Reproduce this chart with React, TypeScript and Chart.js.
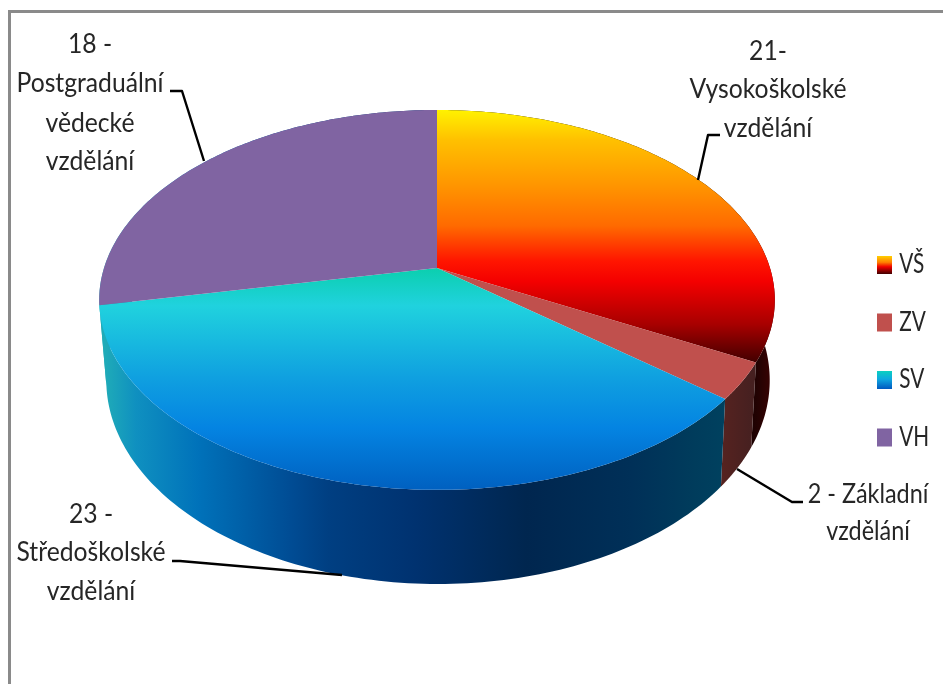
import React, { useEffect, useRef } from "react";
import { Chart, PieController, ArcElement, Legend } from "chart.js";

Chart.register(PieController, ArcElement, Legend);

const categories = ["VŠ", "ZV", "SV", "VH"];
const values = [21, 2, 23, 18];
const calloutLines = [
  ["21-", "Vysokoškolské", "vzdělání"],
  ["2 - Základní", "vzdělání"],
  ["23 -", "Středoškolské", "vzdělání"],
  ["18 -", "Postgraduální", "vědecké", "vzdělání"],
];

const FONT = "Lato";
const TEXT_SIZE = 26;
const LEGEND_SQUEEZE = 0.8;
const INK = "#262626";

// perspective disc: top face and bottom rim
const APEX_X = 437;
const APEX_Y = 268;
const TILT = 0.168;
const TOP = { r: 333, s: 184.6, dy: 0, dx: 0 };
const BOTTOM = { r: 327, s: 198, dy: 78, dx: 1 };

function project(t: number, f: { r: number; s: number; dy: number; dx: number }) {
  const X = Math.cos(t);
  const Y = Math.sin(t);
  const w = 1 - TILT * Y;
  return [APEX_X + f.dx + (f.r * X) / w, APEX_Y + f.dy + (f.s * Y) / w];
}

function linear(ctx: any, x0: number, y0: number, x1: number, y1: number, stops: [number, string][]) {
  const g = ctx.createLinearGradient(x0, y0, x1, y1);
  stops.forEach(([p, c]) => g.addColorStop(p, c));
  return g;
}

const VS_STOPS: [number, string][] = [
  [0, "#fff200"], [0.12, "#ffc000"], [0.3, "#ff9500"], [0.46, "#ff6a00"],
  [0.6, "#ff1500"], [0.68, "#f40000"], [0.85, "#a80000"], [1, "#430000"],
];
const SV_STOPS: [number, string][] = [
  [0, "#0bcfae"], [0.17, "#20d2de"], [0.5, "#0f9fe0"], [0.72, "#0484e2"], [1, "#0060c0"],
];
const VS_WALL: [number, string][] = [[0, "#150000"], [0.5, "#240202"], [1, "#3a0202"]];
const ZV_WALL: [number, string][] = [[0, "#572320"], [1, "#462020"]];
const SV_WALL: [number, string][] = [
  [0, "#1fabb8"], [0.05, "#0f90c0"], [0.15, "#0072ba"], [0.3, "#004c94"], [0.36, "#003f82"],
  [0.5, "#003270"], [0.68, "#00264f"], [0.85, "#003058"], [0.95, "#003c5c"], [1, "#00415f"],
];

// slice face drawn through the library's arc element, with the angles it computed
(ArcElement.prototype as any).draw = function (ctx: any) {
  const { startAngle, endAngle } = this.getProps(["startAngle", "endAngle"]);
  const n = 120;
  ctx.save();
  ctx.beginPath();
  ctx.moveTo(APEX_X, APEX_Y);
  for (let i = 0; i <= n; i++) {
    const [x, y] = project(startAngle + ((endAngle - startAngle) * i) / n, TOP);
    ctx.lineTo(x, y);
  }
  ctx.closePath();
  ctx.fillStyle = this.options.backgroundColor;
  ctx.fill();
  ctx.restore();
};

function drawWall(ctx: any, arc: any, fill: any) {
  const { startAngle, endAngle } = arc.getProps(["startAngle", "endAngle"]);
  const n = 120;
  ctx.beginPath();
  for (let i = 0; i <= n; i++) {
    const [x, y] = project(startAngle + ((endAngle - startAngle) * i) / n, TOP);
    i === 0 ? ctx.moveTo(x, y) : ctx.lineTo(x, y);
  }
  for (let i = n; i >= 0; i--) {
    const [x, y] = project(startAngle + ((endAngle - startAngle) * i) / n, BOTTOM);
    ctx.lineTo(x, y);
  }
  ctx.closePath();
  ctx.fillStyle = fill;
  ctx.fill();
}

const calloutAnchors = [
  { cx: 768, base: [60, 98, 137], squeeze: 0.95 },
  { cx: 868, base: [503, 540], squeeze: 0.9 },
  { cx: 91, base: [523, 561, 600], squeeze: 0.95 },
  { cx: 90, base: [53, 92, 132, 170], squeeze: 0.95 },
];
const leaders = [
  [[720, 135], [708, 135], [698, 180]],
  [[803, 502], [792, 502], [737, 469]],
  [[172, 561], [180, 561], [342, 575]],
  [[170, 91], [182, 91], [204, 161]],
];

const pie3d = {
  id: "pie3d",
  beforeDraw(chart: any) {
    const { ctx, width, height } = chart;
    ctx.save();
    ctx.fillStyle = "#ffffff";
    ctx.fillRect(0, 0, width, height);
    ctx.fillStyle = "#8a8a8a";
    ctx.fillRect(8, 10, 3, height - 10);
    ctx.fillRect(8, 10, width - 8, 3);
    ctx.restore();
  },
  afterLayout(chart: any) {
    const legend = chart.legend;
    if (!legend || legend.__wrapped) return;
    legend.__wrapped = true;
    const orig = legend.draw.bind(legend);
    legend.draw = function () {
      const ctx = chart.ctx;
      const boxes = legend.legendHitBoxes;
      const itemH = Math.max(TEXT_SIZE, 18);
      const lift = (itemH - 18) / 2;
      const swatchStops = [
        [[0, "#ffd000"], [0.35, "#ff8000"], [0.6, "#f00000"], [1, "#400000"]],
        null,
        [[0, "#0bd0c0"], [0.45, "#0fa8e0"], [1, "#0058c0"]],
        null,
      ];
      legend.legendItems.forEach((it: any, i: number) => {
        const s = swatchStops[i];
        if (s) {
          const top = boxes[i].top + lift;
          it.fillStyle = linear(ctx, 0, top, 0, top + 18, s as any);
        }
      });
      ctx.save();
      const dx = 877 - boxes[0].left * LEGEND_SQUEEZE;
      const dy = 256 - (boxes[0].top + lift);
      ctx.translate(dx, dy);
      ctx.scale(LEGEND_SQUEEZE, 1);
      const ft = ctx.fillText;
      ctx.fillText = function (t: string, x: number, y: number) {
        ft.call(ctx, t, x - 4, y);
      };
      orig();
      delete ctx.fillText;
      ctx.restore();
    };
  },
  beforeDatasetsDraw(chart: any) {
    const { ctx } = chart;
    const arcs = chart.getDatasetMeta(0).data;
    const fills = [
      linear(ctx, 745, 0, 772, 0, VS_WALL),
      linear(ctx, 720, 0, 752, 0, ZV_WALL),
      linear(ctx, 105, 0, 725, 0, SV_WALL),
      linear(ctx, 105, 0, 725, 0, SV_WALL),
    ];
    ctx.save();
    [3, 0, 1, 2].forEach((i) => drawWall(ctx, arcs[i], fills[i]));
    ctx.restore();
  },
  afterDatasetsDraw(chart: any) {
    const { ctx } = chart;
    ctx.save();
    ctx.strokeStyle = "#000000";
    ctx.lineWidth = 2.4;
    ctx.lineJoin = "round";
    leaders.forEach((pts) => {
      ctx.beginPath();
      pts.forEach(([x, y], i) => (i ? ctx.lineTo(x, y) : ctx.moveTo(x, y)));
      ctx.stroke();
    });
    ctx.fillStyle = INK;
    ctx.font = `${TEXT_SIZE}px ${FONT}`;
    ctx.textAlign = "center";
    ctx.textBaseline = "alphabetic";
    calloutLines.forEach((lines, i) => {
      const a = calloutAnchors[i];
      lines.forEach((line, j) => {
        ctx.save();
        ctx.translate(a.cx, a.base[j]);
        ctx.scale(a.squeeze, 1);
        ctx.fillText(line, 0, 0);
        ctx.restore();
      });
    });
    ctx.restore();
  },
};

export default function App() {
  const ref = useRef<HTMLCanvasElement>(null);
  useEffect(() => {
    const canvas = ref.current!;
    const ctx = canvas.getContext("2d")!;
    const chart = new Chart(canvas, {
      type: "pie",
      data: {
        labels: categories,
        datasets: [
          {
            data: values,
            borderWidth: 0,
            backgroundColor: [
              linear(ctx, 0, 110, 0, 362, VS_STOPS),
              "#C0504D",
              linear(ctx, 0, 268, 0, 490, SV_STOPS),
              "#8064A2",
            ],
          },
        ],
      },
      options: {
        responsive: false,
        animation: false,
        plugins: {
          tooltip: { enabled: false },
          legend: {
            position: "right",
            labels: {
              font: { family: FONT, size: TEXT_SIZE },
              color: INK,
              boxWidth: 15 / LEGEND_SQUEEZE,
              boxHeight: 18,
              padding: 31.5,
            },
          },
        },
      },
      plugins: [pie3d],
    } as any);
    return () => chart.destroy();
  }, []);
  return (
    <div style={{ position: "absolute", left: 0, top: 0, width: 943, height: 684, overflow: "hidden" }}>
      <canvas ref={ref} width={943} height={684} style={{ display: "block" }} />
    </div>
  );
}
